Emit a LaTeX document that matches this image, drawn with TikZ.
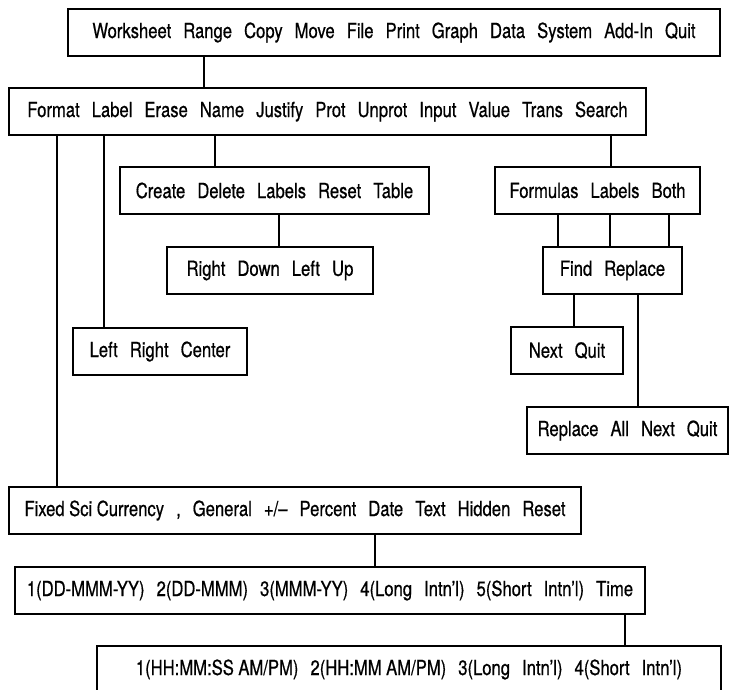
\documentclass[tikz,border=0pt]{standalone}
\usepackage{fontspec}
\setmainfont{TeX Gyre Heros}[FakeStretch=0.8,FakeBold=0.6,WordSpace=2.6]
\usepackage{tikz}

\newcommand\tsp{\hspace{4.5pt}}
\tikzset{menubox/.style={draw, rectangle, inner sep=0pt, outer sep=0pt,
                         minimum height=47pt, font=\fontsize{20.8}{24}\selectfont}}

\begin{document}
\begin{tikzpicture}[x=1pt,y=-1pt,line width=1.1pt]
\fill[white] (0,0) rectangle (729,689);
\useasboundingbox (0,0) rectangle (729,689);
% menus
\node[menubox,minimum width=652pt] (main) at (394,32.5) {Worksheet Range Copy Move File Print Graph Data System Add-In Quit};
\node[menubox,minimum width=637pt] (rng) at (327.5,111.5) {Format Label Erase Name Justify Prot Unprot Input Value Trans Search};
\node[menubox,minimum width=309pt] (name) at (274.5,190.5) {Create Delete Labels Reset Table};
\node[menubox,minimum width=205pt] (srch) at (597.5,190.5) {Formulas Labels Both};
\node[menubox,minimum width=206pt] (dir) at (270,270.5) {Right Down Left Up};
\node[menubox,minimum width=139pt] (find) at (612.5,270.5) {Find Replace};
\node[menubox,minimum width=174pt] (lbl) at (160,351.5) {Left Right Center};
\node[menubox,minimum width=112pt] (nxt) at (567,350.5) {Next Quit};
\node[menubox,minimum width=201pt] (repl) at (627.5,430.5) {Replace All Next Quit};
\node[menubox,minimum width=572pt] (fmt) at (295,510.5) {Fixed\tsp Sci\tsp Currency , General +/– Percent Date Text Hidden Reset};
\node[menubox,minimum width=630pt] (date) at (330,590.5) {1(DD-MMM-YY) 2(DD-MMM) 3(MMM-YY) 4(Long Intn'l) 5(Short Intn'l) Time};
\node[menubox,minimum width=624pt] (time) at (409,669.5) {1(HH:MM:SS\tsp AM/PM) 2(HH:MM\tsp AM/PM) 3(Long Intn'l) 4(Short Intn'l)};
% connectors
\draw (main.south -| 204,0) -- (rng.north -| 204,0);
\draw (rng.south -| 57,0) -- (fmt.north -| 57,0);
\draw (rng.south -| 104,0) -- (lbl.north -| 104,0);
\draw (rng.south -| 215,0) -- (name.north -| 215,0);
\draw (rng.south -| 611,0) -- (srch.north -| 611,0);
\draw (name.south -| 279,0) -- (dir.north -| 279,0);
\foreach \x in {558,610,669}
  \draw (srch.south -| \x,0) -- (find.north -| \x,0);
\draw (find.south -| 574,0) -- (nxt.north -| 574,0);
\draw (find.south -| 638,0) -- (repl.north -| 638,0);
\draw (fmt.south -| 375,0) -- (date.north -| 375,0);
\draw (date.south -| 625,0) -- (time.north -| 625,0);
\end{tikzpicture}
\end{document}
